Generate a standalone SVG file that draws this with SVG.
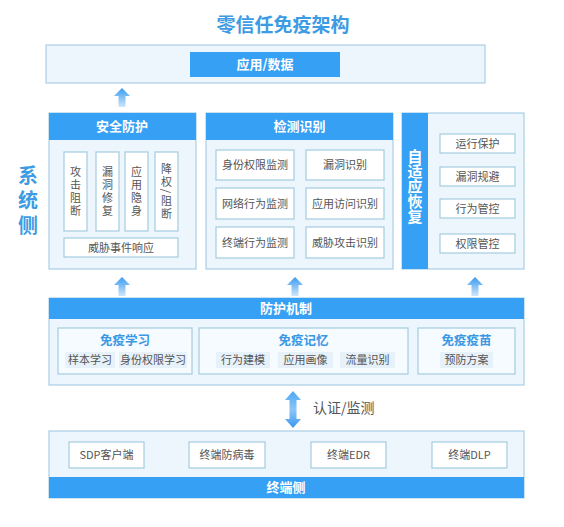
<svg xmlns="http://www.w3.org/2000/svg" width="564" height="527" viewBox="0 0 564 527">
<defs>
<linearGradient id="ag" x1="0" y1="0" x2="0" y2="1"><stop offset="0" stop-color="#3a9bf0"/><stop offset="1" stop-color="#cfe6fa"/></linearGradient>
<linearGradient id="bg2" x1="0" y1="0" x2="0" y2="1"><stop offset="0" stop-color="#4aa8f4"/><stop offset="0.5" stop-color="#8cc6f6"/><stop offset="1" stop-color="#3a98ee"/></linearGradient>
<style>
text{font-family:"Noto Sans CJK SC","Noto Sans",sans-serif;}
.panel{fill:#edf6fd;stroke:#a9cfe6;stroke-width:1.2;}
.head{fill:#36a0f4;}
.ht{fill:#fff;font-size:13px;font-weight:bold;text-anchor:middle;}
.box{fill:#fff;stroke:#a4cbe0;stroke-width:1.2;}
.bt{fill:#555;font-size:11px;text-anchor:middle;}
.vt{fill:#555;font-size:11px;text-anchor:middle;writing-mode:vertical-rl;letter-spacing:2px;}
.sub{fill:#f6fbff;stroke:#a4cbe0;stroke-width:1.2;}
.st{fill:#3b98e4;font-size:12.5px;font-weight:bold;text-anchor:middle;}
.pill{fill:#e7f1f9;}
</style>
</defs>
<rect width="564" height="527" fill="#fff"/>
<text x="283" y="32" text-anchor="middle" font-size="19" font-weight="bold" fill="#3d9be3">零信任免疫架构</text>
<text x="28" y="203" font-size="20" font-weight="bold" fill="#3d9be3" text-anchor="middle" style="writing-mode:vertical-rl;letter-spacing:5px">系统侧</text>

<g id="app-data">
<rect class="panel" x="46" y="45" width="439" height="38"/>
<rect class="head" x="190" y="52" width="150" height="25"/>
<text class="ht" x="265" y="69">应用/数据</text>
</g>

<g id="security">
<rect class="panel" x="49" y="113" width="147" height="156"/>
<rect class="head" x="49" y="113" width="147" height="27"/>
<text class="ht" x="122" y="131">安全防护</text>
<rect class="box" x="64" y="152" width="23" height="79"/>
<rect class="box" x="96" y="152" width="23" height="79"/>
<rect class="box" x="125" y="152" width="23" height="79"/>
<rect class="box" x="155" y="152" width="23" height="79"/>
<text class="vt" x="75.5" y="192">攻击阻断</text>
<text class="vt" x="107.5" y="192">漏洞修复</text>
<text class="vt" x="136.5" y="192">应用隐身</text>
<text class="vt" x="166.5" y="192">降权/阻断</text>
<rect class="box" x="64" y="238" width="114" height="19"/>
<text class="bt" x="121" y="251.5">威胁事件响应</text>
</g>

<g id="detect">
<rect class="panel" x="206" y="113" width="187" height="156"/>
<rect class="head" x="206" y="113" width="187" height="27"/>
<text class="ht" x="299.5" y="131">检测识别</text>
<rect class="box" x="216" y="150" width="78" height="30"/>
<rect class="box" x="306" y="150" width="78" height="30"/>
<rect class="box" x="216" y="188" width="78" height="31"/>
<rect class="box" x="306" y="188" width="78" height="31"/>
<rect class="box" x="216" y="227" width="78" height="31"/>
<rect class="box" x="306" y="227" width="78" height="31"/>
<text class="bt" x="255" y="169">身份权限监测</text>
<text class="bt" x="345" y="169">漏洞识别</text>
<text class="bt" x="255" y="207.5">网络行为监测</text>
<text class="bt" x="345" y="207.5">应用访问识别</text>
<text class="bt" x="255" y="246.5">终端行为监测</text>
<text class="bt" x="345" y="246.5">威胁攻击识别</text>
</g>

<g id="adaptive">
<rect class="panel" x="402" y="113" width="122" height="156"/>
<rect class="head" x="402" y="113" width="26" height="156"/>
<text x="415" y="186" fill="#fff" font-size="15" font-weight="bold" text-anchor="middle" style="writing-mode:vertical-rl;letter-spacing:0px">自适应恢复</text>
<rect class="box" x="440" y="134" width="75" height="19"/>
<rect class="box" x="440" y="167" width="75" height="19"/>
<rect class="box" x="440" y="199" width="75" height="19"/>
<rect class="box" x="440" y="234" width="75" height="19"/>
<text class="bt" x="477.5" y="147.5">运行保护</text>
<text class="bt" x="477.5" y="180.5">漏洞规避</text>
<text class="bt" x="477.5" y="212.5">行为管控</text>
<text class="bt" x="477.5" y="247.5">权限管控</text>
</g>

<g id="protect">
<rect class="panel" x="49" y="298" width="475" height="87"/>
<rect class="head" x="49" y="298" width="475" height="21"/>
<text class="ht" x="286" y="313">防护机制</text>
<rect class="sub" x="58" y="328" width="134" height="46"/>
<text class="st" x="125" y="345">免疫学习</text>
<rect class="pill" x="65" y="352" width="50" height="16"/>
<rect class="pill" x="119" y="352" width="68" height="16"/>
<text class="bt" x="90" y="364">样本学习</text>
<text class="bt" x="153" y="364">身份权限学习</text>
<rect class="sub" x="199" y="328" width="209" height="46"/>
<text class="st" x="303.5" y="345">免疫记忆</text>
<rect class="pill" x="216" y="352" width="54" height="16"/>
<rect class="pill" x="278" y="352" width="55" height="16"/>
<rect class="pill" x="340" y="352" width="55" height="16"/>
<text class="bt" x="243" y="364">行为建模</text>
<text class="bt" x="305.5" y="364">应用画像</text>
<text class="bt" x="367.5" y="364">流量识别</text>
<rect class="sub" x="418" y="328" width="97" height="46"/>
<text class="st" x="466.5" y="345">免疫疫苗</text>
<rect class="pill" x="440" y="352" width="53" height="16"/>
<text class="bt" x="466.5" y="364">预防方案</text>
</g>

<g id="terminal">
<rect class="panel" x="49" y="431" width="475" height="67"/>
<rect class="head" x="49" y="477" width="475" height="21"/>
<text class="ht" x="286" y="492">终端侧</text>
<rect class="box" x="69" y="442" width="75" height="26"/>
<rect class="box" x="189" y="442" width="76" height="26"/>
<rect class="box" x="311" y="442" width="75" height="26"/>
<rect class="box" x="432" y="442" width="75" height="26"/>
<text class="bt" x="106.5" y="459">SDP客户端</text>
<text class="bt" x="227" y="459">终端防病毒</text>
<text class="bt" x="348.5" y="459">终端EDR</text>
<text class="bt" x="469.5" y="459">终端DLP</text>
</g>

<g id="connectors">
<path d="M122 88 L130 96 L125.5 96 L125.5 107 L118.5 107 L118.5 96 L114 96 Z" fill="url(#ag)"/>
<path d="M122 277 L130 285 L125.5 285 L125.5 296 L118.5 296 L118.5 285 L114 285 Z" fill="url(#ag)"/>
<path d="M295 277 L303 285 L298.5 285 L298.5 296 L291.5 296 L291.5 285 L287 285 Z" fill="url(#ag)"/>
<path d="M475 277 L483 285 L478.5 285 L478.5 296 L471.5 296 L471.5 285 L467 285 Z" fill="url(#ag)"/>
<path d="M293 391 L301 400 L296.5 400 L296.5 419 L301 419 L293 428 L285 419 L289.5 419 L289.5 400 L285 400 Z" fill="url(#bg2)"/>
<text x="313" y="413" font-size="14" fill="#555">认证/监测</text>
</g>
</svg>
